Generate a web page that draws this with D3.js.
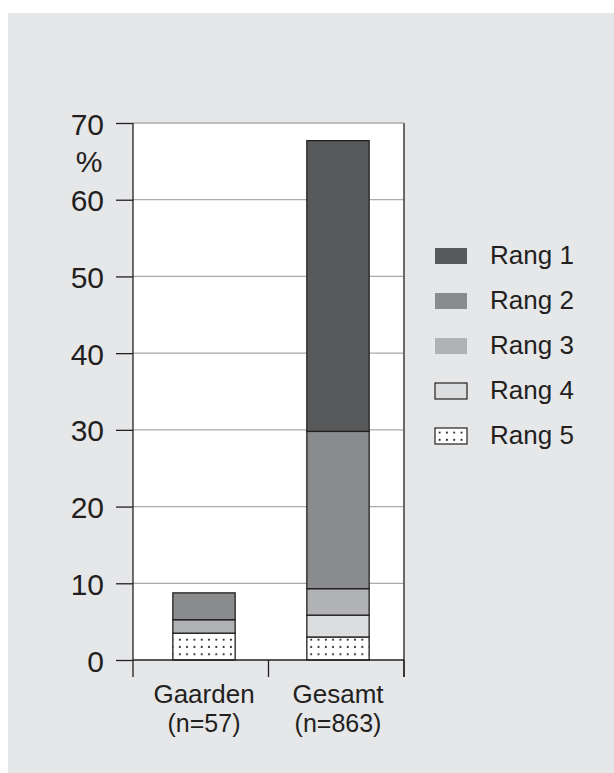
<!DOCTYPE html>
<html>
<head>
<meta charset="utf-8">
<script src="https://cdn.jsdelivr.net/npm/d3@7"></script>
<style>
  html, body { margin: 0; padding: 0; background: #ffffff; }
  svg { display: block; }
  text { font-family: "Liberation Sans", Arial, Helvetica, sans-serif; fill: #231f20; }
</style>
</head>
<body>
<svg id="chart" width="614" height="773"></svg>
<script>
// ---- data ----
const categories = ["Gaarden", "Gesamt"];
const sampleSizes = ["(n=57)", "(n=863)"];
const seriesNames = ["Rang 1", "Rang 2", "Rang 3", "Rang 4", "Rang 5"];
const rang1 = [0, 37.9];
const rang2 = [3.5, 20.5];
const rang3 = [1.75, 3.45];
const rang4 = [0, 2.85];
const rang5 = [3.5, 3.0];
const yTicks = [0, 10, 20, 30, 40, 50, 60, 70];
const yUnit = "%";

// ---- layout / styles ----
const W = 614, H = 773;
const plot = { left: 133, right: 404, top: 123, bottom: 660 };
const colors = {
  "Rang 1": "#58595b",
  "Rang 2": "#8a8b8d",
  "Rang 3": "#b1b2b4",
  "Rang 4": "#dcdddf",
  "Rang 5": "url(#dots)"
};
const ink = "#231f20";

const svg = d3.select("#chart");

// pattern for Rang 5
const defs = svg.append("defs");
const pat = defs.append("pattern")
  .attr("id", "dots").attr("patternUnits", "userSpaceOnUse")
  .attr("width", 7.3).attr("height", 7.3).attr("x", 1).attr("y", 1);
pat.append("rect").attr("width", 7.3).attr("height", 7.3).attr("fill", "#ffffff");
pat.append("circle").attr("cx", 3.6).attr("cy", 3.6).attr("r", 1.05).attr("fill", "#231f20");

// background panel
svg.append("rect").attr("x", 8).attr("y", 13).attr("width", W - 8).attr("height", H - 13)
  .attr("fill", "#e6e7e9");

// plot area
svg.append("rect").attr("x", plot.left).attr("y", plot.top)
  .attr("width", plot.right - plot.left).attr("height", plot.bottom - plot.top)
  .attr("fill", "#ffffff");

// scales
const y = d3.scaleLinear().domain([0, 70]).range([plot.bottom, plot.top]);
const xEdges = d3.scaleBand().domain(categories).range([plot.left, plot.right]).paddingInner(0).paddingOuter(0);
const x = d3.scaleBand().domain(categories).range([plot.left + 4, plot.right + 1]).paddingInner(0.535).paddingOuter(0.2675);

// gridlines
svg.append("g").selectAll("line").data(yTicks.filter(d => d > 0)).join("line")
  .attr("x1", plot.left).attr("x2", plot.right)
  .attr("y1", d => y(d)).attr("y2", d => y(d))
  .attr("stroke", "#a7a9ac").attr("stroke-width", 1.2);

// stacked data
const table = categories.map((c, i) => ({
  cat: c,
  "Rang 1": rang1[i], "Rang 2": rang2[i], "Rang 3": rang3[i], "Rang 4": rang4[i], "Rang 5": rang5[i]
}));
const stack = d3.stack().keys(seriesNames.slice().reverse());
const layers = stack(table);

const gBars = svg.append("g");
layers.forEach(layer => {
  gBars.append("g").selectAll("rect")
    .data(layer.filter(d => d[1] - d[0] > 0))
    .join("rect")
    .attr("x", d => x(d.data.cat))
    .attr("width", x.bandwidth())
    .attr("y", d => y(d[1]))
    .attr("height", d => y(d[0]) - y(d[1]))
    .attr("fill", colors[layer.key])
    .attr("stroke", ink).attr("stroke-width", 1.3);
});

// right border
svg.append("line").attr("x1", plot.right).attr("x2", plot.right)
  .attr("y1", plot.top).attr("y2", plot.bottom + 17)
  .attr("stroke", "#58595b").attr("stroke-width", 1.8);
// top line (70)
svg.append("line").attr("x1", plot.left).attr("x2", plot.right)
  .attr("y1", y(70)).attr("y2", y(70))
  .attr("stroke", "#a7a9ac").attr("stroke-width", 1.2);

// y axis
const yAxis = d3.axisLeft(y).tickValues(yTicks).tickSize(17).tickPadding(12).tickFormat(d3.format("d"));
const gy = svg.append("g").attr("transform", `translate(${plot.left},0)`).call(yAxis);
gy.select(".domain").remove();
gy.selectAll(".tick line").attr("stroke", ink).attr("stroke-width", 1.3);
gy.selectAll(".tick text").attr("font-size", 30).attr("font-family", "Liberation Sans, Arial, sans-serif")
  .attr("fill", ink).attr("dy", "0.37em");
svg.append("line").attr("x1", plot.left).attr("x2", plot.left)
  .attr("y1", plot.top).attr("y2", plot.bottom + 17)
  .attr("stroke", ink).attr("stroke-width", 1.3);

// unit label
svg.append("text").attr("x", 89).attr("y", y(70) + 49).attr("text-anchor", "middle")
  .attr("font-size", 30).text(yUnit);

// x axis
svg.append("line").attr("x1", plot.left).attr("x2", plot.right)
  .attr("y1", plot.bottom).attr("y2", plot.bottom)
  .attr("stroke", ink).attr("stroke-width", 1.3);
const edgePositions = categories.map(c => xEdges(c)).concat([xEdges(categories[categories.length - 1]) + xEdges.bandwidth()]);
svg.append("g").selectAll("line").data(edgePositions.slice(1)).join("line")
  .attr("x1", d => d).attr("x2", d => d)
  .attr("y1", plot.bottom).attr("y2", plot.bottom + 17)
  .attr("stroke", ink).attr("stroke-width", 1.3);

// category labels (two separate lines)
const gCat = svg.append("g");
categories.forEach((c, i) => {
  const cx = x(c) + x.bandwidth() / 2;
  gCat.append("text").attr("text-anchor", "middle").attr("font-size", 26)
    .attr("x", cx).attr("y", 703).text(c);
  gCat.append("text").attr("text-anchor", "middle").attr("font-size", 25)
    .attr("x", cx).attr("y", 732).text(sampleSizes[i]);
});

// legend
const legend = svg.append("g").attr("transform", "translate(435,248)");
seriesNames.forEach((name, i) => {
  const g = legend.append("g").attr("transform", `translate(0,${i * 45})`);
  g.append("rect").attr("width", 32).attr("height", 16)
    .attr("fill", colors[name])
    .attr("stroke", (name === "Rang 4" || name === "Rang 5") ? ink : "none")
    .attr("stroke-width", 1.2);
  g.append("text").attr("x", 55).attr("y", 16).attr("font-size", 26).text(name);
});
</script>
</body>
</html>
